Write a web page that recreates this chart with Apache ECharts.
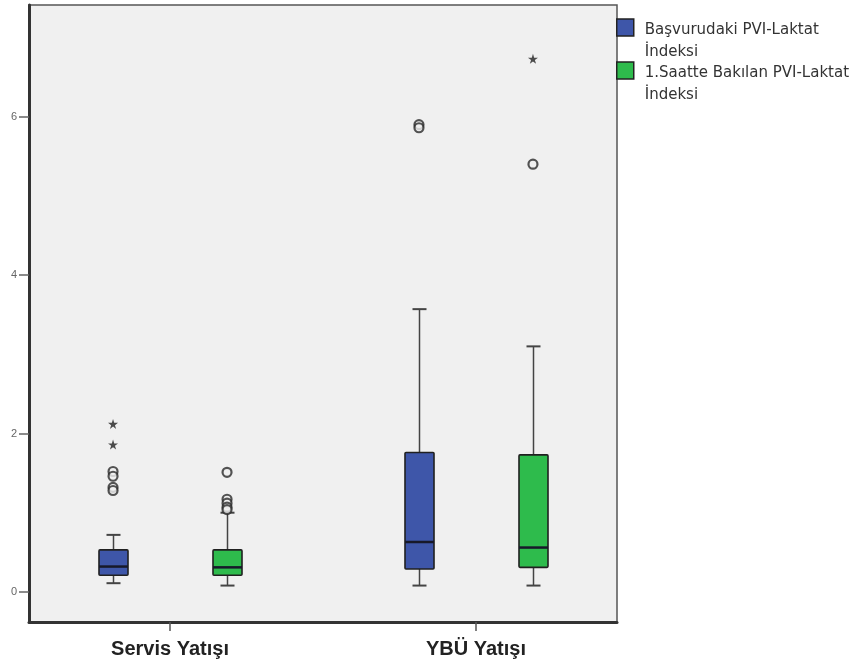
<!DOCTYPE html>
<html>
<head>
<meta charset="utf-8">
<script src="https://cdn.jsdelivr.net/npm/echarts@6/dist/echarts.min.js"></script>
<style>
  html, body { margin: 0; padding: 0; background: #ffffff; }
  #chart { width: 852px; height: 670px; }
</style>
</head>
<body>
<div id="chart"></div>
<script>
// Groups on the horizontal axis
const categories = ['Servis Yatışı', 'YBÜ Yatışı'];
// Series names (shown in the legend)
const seriesNames = ['Başvurudaki PVI-Laktat\nİndeksi', '1.Saatte Bakılan PVI-Laktat\nİndeksi'];
// Box statistics per group: [lower whisker, Q1, median, Q3, upper whisker]
const admissionBoxes = [[0.11, 0.21, 0.32, 0.53, 0.72], [0.08, 0.29, 0.63, 1.76, 3.57]];
const firstHourBoxes = [[0.08, 0.21, 0.31, 0.53, 1.00], [0.08, 0.31, 0.56, 1.73, 3.10]];
// Outliers (circles) and extreme values (stars): [group index, value]
const admissionOutliers = [[0, 1.52], [0, 1.46], [0, 1.32], [0, 1.28], [1, 5.90], [1, 5.86]];
const admissionExtremes = [[0, 2.12], [0, 1.86]];
const firstHourOutliers = [[0, 1.51], [0, 1.17], [0, 1.12], [0, 1.07], [0, 1.04], [1, 5.40]];
const firstHourExtremes = [[1, 6.73]];
// Y axis tick labels
const yTicks = [0, 2, 4, 6];

const COLORS = ['#3e56a9', '#2ebb4c'];
const OFFSET_PX = 57;   // horizontal offset of each series from the group centre
const BOX_W = 29;
const CAP_W = 14;
const STAR = 'path://M5,0 L6.18,3.62 L10,3.62 L6.91,5.86 L8.09,9.5 L5,7.24 L1.91,9.5 L3.09,5.86 L0,3.62 L3.82,3.62 Z';

const toX = (pts) => pts.map(([g, v]) => [g + 1, v]);

function boxRenderer(color, dx) {
  return function (params, api) {
    const x = api.value(0);
    const lo = api.coord([x, api.value(1)]);
    const q1 = api.coord([x, api.value(2)]);
    const md = api.coord([x, api.value(3)]);
    const q3 = api.coord([x, api.value(4)]);
    const hi = api.coord([x, api.value(5)]);
    const cx = Math.round(lo[0] + dx) + 0.5;
    const hw = BOX_W / 2, cw = CAP_W / 2;
    const line = (x1, y1, x2, y2, w, c) => ({
      type: 'line', shape: { x1, y1, x2, y2 }, style: { stroke: c, lineWidth: w }
    });
    return {
      type: 'group',
      children: [
        line(cx, hi[1], cx, q3[1], 1.5, '#444'),
        line(cx, q1[1], cx, lo[1], 1.5, '#444'),
        line(cx - cw, hi[1], cx + cw, hi[1], 2, '#444'),
        line(cx - cw, lo[1], cx + cw, lo[1], 2, '#444'),
        {
          type: 'rect',
          shape: { x: cx - hw, y: q3[1], width: BOX_W, height: q1[1] - q3[1], r: 1 },
          style: { fill: color, stroke: '#202020', lineWidth: 1.6 }
        },
        line(cx - hw, md[1], cx + hw, md[1], 2.5, '#17192a')
      ]
    };
  };
}

function boxSeries(name, boxes, color, dx) {
  return {
    name: name,
    type: 'custom',
    renderItem: boxRenderer(color, dx),
    encode: { x: 0, y: [1, 2, 3, 4, 5] },
    itemStyle: { color: color, borderColor: '#222', borderWidth: 1.5 },
    data: boxes.map((b, i) => [i + 1].concat(b)),
    z: 2
  };
}

function outlierSeries(name, pts, dx, star) {
  return {
    name: name,
    type: 'scatter',
    data: toX(pts),
    symbol: star ? STAR : 'circle',
    symbolSize: star ? 10 : 9,
    symbolOffset: [dx, 0],
    itemStyle: star
      ? { color: '#222' }
      : { color: '#f0f0f0', borderColor: '#2a2a2a', borderWidth: 2.2 },
    emphasis: { disabled: true },
    z: 3
  };
}

const chart = echarts.init(document.getElementById('chart'), null, { renderer: 'canvas' });

const legendFont = { fontFamily: 'DejaVu Sans', fontSize: 15, color: '#333', lineHeight: 22 };

chart.setOption({
  animation: false,
  backgroundColor: '#ffffff',
  grid: {
    left: 29, right: 235, top: 5, bottom: 48,
    show: true,
    backgroundColor: '#f0f0f0',
    borderColor: '#555',
    borderWidth: 1.5
  },
  legend: {
    data: seriesNames.map((n, i) => ({ name: n, itemStyle: { color: COLORS[i], borderColor: '#222', borderWidth: 1.5 } })),
    // a leading spacer line keeps the first text line level with the swatch
    formatter: (name) => name.split('\n').reduce((s, part) => s + '\n{t|' + part + '}', '{s| }'),
    orient: 'vertical',
    left: 616,
    top: -8.5,
    padding: 0,
    itemGap: -29,
    itemWidth: 17,
    itemHeight: 17,
    icon: 'rect',
    selectedMode: false,
    textStyle: Object.assign({}, legendFont, {
      rich: {
        t: Object.assign({ padding: [0, 0, 0, 6] }, legendFont),
        s: Object.assign({}, legendFont, { lineHeight: 28 })
      }
    })
  },
  xAxis: {
    type: 'value',
    min: 0.539,
    max: 2.461,
    splitLine: { show: false },
    axisLine: { show: true, onZero: false, lineStyle: { color: '#333', width: 3 } },
    axisTick: { show: true, customValues: [1, 2], length: 9, lineStyle: { color: '#555', width: 1.5 } },
    axisLabel: {
      customValues: [1, 2],
      formatter: (v) => categories[Math.round(v) - 1],
      margin: 17,
      fontFamily: 'Liberation Sans',
      fontWeight: 'bold',
      fontSize: 20,
      color: '#222'
    }
  },
  yAxis: {
    type: 'value',
    min: -0.38,
    max: 7.41,
    splitLine: { show: false },
    axisLine: { show: true, onZero: false, lineStyle: { color: '#333', width: 3 } },
    axisTick: { show: true, customValues: yTicks, length: 10, lineStyle: { color: '#666', width: 1.5 } },
    axisLabel: {
      customValues: yTicks,
      margin: 12,
      fontFamily: 'Liberation Sans',
      fontSize: 11,
      color: '#666'
    }
  },
  series: [
    boxSeries(seriesNames[0], admissionBoxes, COLORS[0], -OFFSET_PX),
    boxSeries(seriesNames[1], firstHourBoxes, COLORS[1], OFFSET_PX),
    outlierSeries(seriesNames[0], admissionOutliers, -OFFSET_PX, false),
    outlierSeries(seriesNames[0], admissionExtremes, -OFFSET_PX, true),
    outlierSeries(seriesNames[1], firstHourOutliers, OFFSET_PX, false),
    outlierSeries(seriesNames[1], firstHourExtremes, OFFSET_PX, true)
  ]
});
</script>
</body>
</html>
